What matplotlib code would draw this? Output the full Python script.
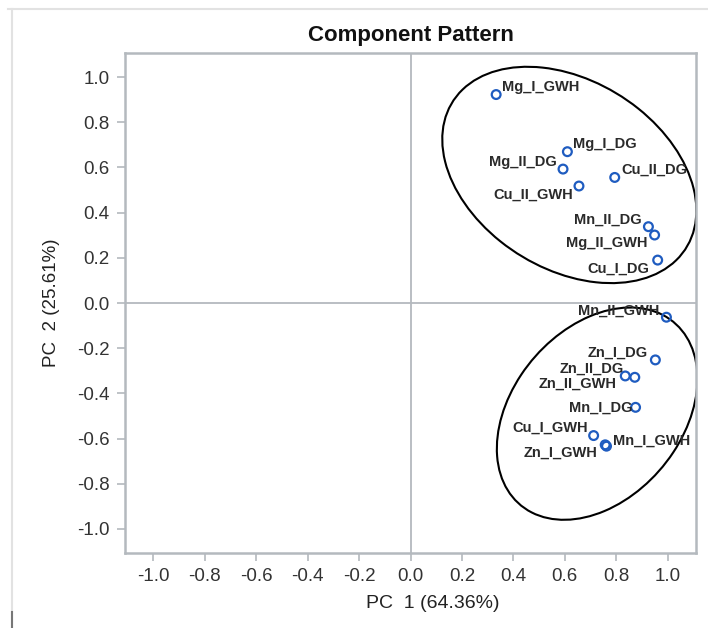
import numpy as np
import matplotlib
matplotlib.use("Agg")
import matplotlib.pyplot as plt
from matplotlib.patches import Ellipse
from matplotlib.lines import Line2D

# ---- data (component loadings) ----
labels = ["Mg_I_GWH", "Mg_I_DG", "Mg_II_DG", "Cu_II_DG", "Cu_II_GWH",
          "Mn_II_DG", "Mg_II_GWH", "Cu_I_DG",
          "Mn_II_GWH", "Zn_I_DG", "Zn_II_DG", "Zn_II_GWH", "Mn_I_DG",
          "Cu_I_GWH", "Mn_I_GWH", "Zn_I_GWH"]
pc1 = [0.333, 0.610, 0.593, 0.794, 0.655, 0.925, 0.949, 0.961,
       0.995, 0.952, 0.872, 0.835, 0.875, 0.712, 0.762, 0.757]
pc2 = [0.923, 0.670, 0.593, 0.556, 0.518, 0.338, 0.301, 0.190,
       -0.063, -0.252, -0.329, -0.323, -0.462, -0.587, -0.634, -0.628]
# label placement (offset in points, horizontal alignment)
label_pos = {
    "Mg_I_GWH": (4.3, 5.5, "left"), "Mg_I_DG": (4.3, 5.5, "left"),
    "Mg_II_DG": (-4.7, 5.3, "right"), "Cu_II_DG": (4.8, 5.3, "left"),
    "Cu_II_GWH": (-4.3, -6.5, "right"), "Mn_II_DG": (-5.0, 5.3, "right"),
    "Mg_II_GWH": (-4.8, -6.0, "right"), "Cu_I_DG": (-5.8, -6.0, "right"),
    "Mn_II_GWH": (-4.8, 4.8, "right"), "Zn_I_DG": (-5.3, 5.5, "right"),
    "Zn_II_DG": (-8.0, 6.0, "right"), "Zn_II_GWH": (-6.5, -5.8, "right"),
    "Mn_I_DG": (-2.5, 0.0, "right"), "Cu_I_GWH": (-4.1, 5.8, "right"),
    "Mn_I_GWH": (4.8, 3.6, "left"), "Zn_I_GWH": (-5.5, -6.0, "right"),
}
ticks = [-1.0, -0.8, -0.6, -0.4, -0.2, 0.0, 0.2, 0.4, 0.6, 0.8, 1.0]
title = "Component Pattern"
xlabel = "PC  1 (64.36%)"
ylabel = "PC  2 (25.61%)"

# cluster ellipses: centre, half-extent in x, half-extent in y, coupling cos(phi)
clusters = [((0.6175, 0.567), 0.494, 0.479, -0.33),
            ((0.7257, -0.490), 0.390, 0.470, 0.33)]

plt.rcParams["font.family"] = ["Liberation Sans", "DejaVu Sans"]

fig = plt.figure(figsize=(7.08, 6.28), dpi=100)
ax = fig.add_axes([125/708, (628-553)/628, (696-125)/708, (553-53)/628])

frame_col = "#b4b9be"
ax.axhline(0, color=frame_col, lw=1.3, zorder=1)
ax.axvline(0, color=frame_col, lw=1.3, zorder=1)

ax.scatter(pc1, pc2, s=40, facecolors="none", edgecolors="#1f5cc0",
           linewidths=1.6, zorder=3)

for name, x, y in zip(labels, pc1, pc2):
    dx, dy, ha = label_pos[name]
    ax.annotate(name, (x, y), xytext=(dx, dy), textcoords="offset points",
                ha=ha, va="center", fontsize=10.5, color="#2a2a2a",
                fontweight="bold", zorder=4)

for (cx, cy), A, B, c in clusters:
    M = np.array([[A*A, A*B*c], [A*B*c, B*B]])
    w, v = np.linalg.eigh(M)
    ang = np.degrees(np.arctan2(v[1, 1], v[0, 1]))
    e = Ellipse((cx, cy), 2*np.sqrt(w[1]), 2*np.sqrt(w[0]), angle=ang,
                fill=False, edgecolor="black", lw=1.5, zorder=2)
    ax.add_patch(e)

ax.set_xlim(-1.11, 1.11)
ax.set_ylim(-1.107, 1.107)
ax.set_xticks(ticks)
ax.set_yticks(ticks)
ax.set_xticklabels([f"{t:.1f}" for t in ticks])
ax.set_yticklabels([f"{t:.1f}" for t in ticks])
ax.tick_params(axis="both", colors=frame_col, labelcolor="#333333",
               labelsize=13.5, length=6, width=1.2, pad=5)
for s in ax.spines.values():
    s.set_color(frame_col)
    s.set_linewidth(1.8)

ax.set_title(title, fontsize=16, fontweight="bold", pad=9, color="#111111")
ax.set_xlabel(xlabel, fontsize=14, color="#222222")
ax.set_ylabel(ylabel, fontsize=13.5, color="#222222")
ax.xaxis.set_label_coords(0.539, -0.085)
ax.yaxis.set_label_coords(-0.114, 0.5)

# outer light frame
fig.add_artist(Line2D([12/708, 12/708], [0, 1 - 9/628], color="#e2e2e2", lw=1.5))
fig.add_artist(Line2D([8/708, 1], [1 - 9/628, 1 - 9/628], color="#e2e2e2", lw=1.5))
fig.add_artist(Line2D([12/708, 12/708], [0, 16/628], color="#777777", lw=1.5))

fig.savefig("out.png", dpi=100, facecolor="white")
